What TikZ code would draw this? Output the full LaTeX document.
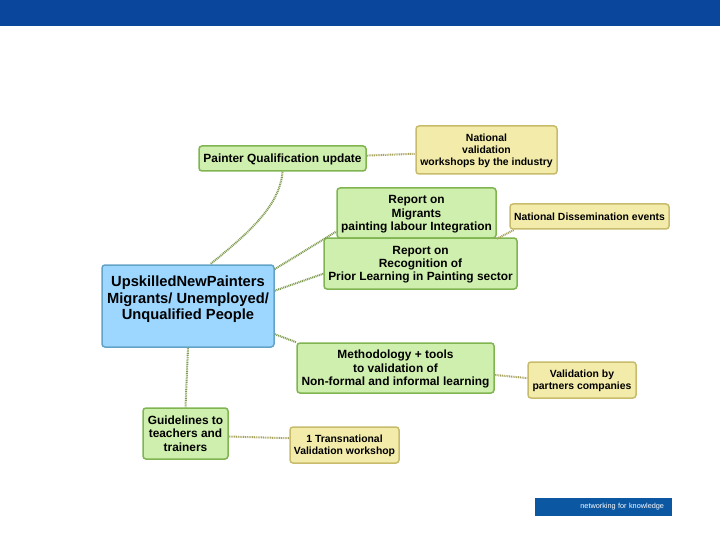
\documentclass[tikz,border=0pt]{standalone}
\usepackage{fontspec}
\setmainfont{Liberation Sans}
\usetikzlibrary{calc,positioning}
\definecolor{bannerblue}{HTML}{0A479C}
\definecolor{logoblue}{HTML}{0B57A2}
\definecolor{topicfill}{HTML}{CFEFAE}
\definecolor{topicline}{HTML}{80B451}
\definecolor{notefill}{HTML}{F3EBAA}
\definecolor{noteline}{HTML}{C8BC6C}
\definecolor{rootfill}{HTML}{9DD7FF}
\definecolor{rootline}{HTML}{64A3C8}
\definecolor{linkgreen}{HTML}{7F9C50}
\definecolor{linkolive}{HTML}{A8A35E}
\tikzset{%
	box/.style    = {draw, rectangle, rounded corners=3pt, line width=1.5pt, align=center, inner sep=0pt, text depth=0pt, font=\bfseries\fontsize{11.9}{13.4}\selectfont},
	topic/.style  = {box, fill=topicfill, draw=topicline},
	note/.style   = {box, fill=notefill, draw=noteline, font=\bfseries\fontsize{10.4}{12}\selectfont},
	root/.style   = {box, fill=rootfill, draw=rootline, font=\bfseries\fontsize{14.7}{16.6}\selectfont},
	link/.style   = {linkgreen, line width=2pt, dash pattern=on 1pt off 0.8pt},
	linknote/.style = {link, linkolive},
}
\begin{document}
\begin{tikzpicture}[x=1pt,y=-1pt]
	\useasboundingbox (0,0) rectangle (720,540);
	\fill[bannerblue] (0,0) rectangle (720,26);
	\node[fill=logoblue, text=white, minimum width=137pt, minimum height=18pt, inner sep=0pt, font=\fontsize{7.3}{8}\selectfont, align=right, text width=121pt] (logo) at (603.5,507) {networking for knowledge};
	
	\node[root, minimum width=172pt, minimum height=82pt] (main) at (188,306) {UpskilledNewPainters\\Migrants/ Unemployed/\\Unqualified People\\\mbox{}};
	
	\node[topic, minimum width=167pt, minimum height=25pt] (qualif) at (282.5,158.5) {Painter Qualification update};
	\node[topic, minimum width=159pt, minimum height=50pt] (migrants) at (416.5,213) {Report on\\Migrants\\painting labour Integration};
	\node[topic, minimum width=193pt, minimum height=51pt] (prior) at (420.5,263.5) {Report on\\Recognition of\\Prior Learning in Painting sector};
	\node[topic, minimum width=197pt, minimum height=50pt] (method) at (395.5,368) {Methodology + tools\\to validation of\\Non-formal and informal learning};
	\node[topic, minimum width=85pt, minimum height=51pt] (guide) at (185.5,433.5) {Guidelines to\\teachers and\\trainers};
	
	\node[note, minimum width=141pt, minimum height=48pt] (national) at (486.5,150) {National\\validation\\workshops by the industry};
	\node[note, minimum width=159pt, minimum height=25pt] (dissem) at (589.5,216.5) {National Dissemination events};
	\node[note, minimum width=108pt, minimum height=36pt] (partners) at (582,380) {Validation by\\partners companies};
	\node[note, minimum width=109pt, minimum height=36pt] (transnat) at (344.5,445) {1 Transnational\\Validation workshop};
	
	\draw[link] (qualif.south) .. controls (280,205) and (250,232) .. (main.62);
	\draw[link] (main.23) -- (migrants.193);
	\draw[link] (main.10) -- (prior.186);
	\draw[link] (main.-18) -- (method.north west);
	\draw[link] (main.south) -- (guide.north);
	\draw[linknote] (qualif.2.7) -- (national.183.6);
	\draw[linknote] (migrants.south east) -- (dissem.190.5);
	\draw[linknote] (method.-4.6) -- (partners.178);
	\draw[linknote] (guide.-4.7) -- (transnat.173.7);
\end{tikzpicture}
\end{document}
